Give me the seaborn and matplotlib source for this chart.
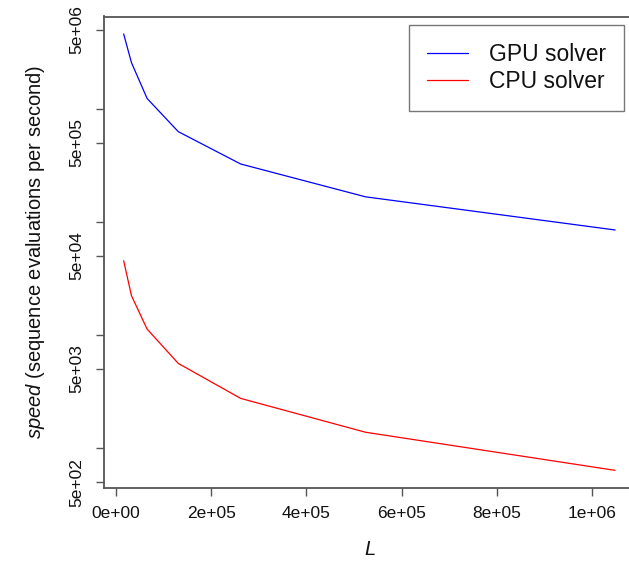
import numpy as np
import pandas as pd
import matplotlib
matplotlib.use("Agg")
import matplotlib.pyplot as plt
import seaborn as sns

# ---- data ----
L_values = [16384, 32768, 65536, 131072, 262144, 524288, 1048576]
gpu_speed = [4.61e6, 2.57e6, 1.24e6, 6.3e5, 3.26e5, 1.67e5, 8.5e4]
cpu_speed = [4.54e4, 2.23e4, 1.13e4, 5.61e3, 2.75e3, 1.38e3, 635]
series_names = ["GPU solver", "CPU solver"]
series_colors = ["blue", "red"]

x_ticks = [0, 2e5, 4e5, 6e5, 8e5, 1e6]
x_tick_labels = ["0e+00", "2e+05", "4e+05", "6e+05", "8e+05", "1e+06"]
y_ticks = [5e2, 1e3, 5e3, 1e4, 5e4, 1e5, 5e5, 1e6, 5e6]
y_tick_labels = ["5e+02", "", "5e+03", "", "5e+04", "", "5e+05", "", "5e+06"]

df = pd.DataFrame({
    "L": L_values * 2,
    "speed": gpu_speed + cpu_speed,
    "solver": [series_names[0]] * len(L_values) + [series_names[1]] * len(L_values),
})

sns.set_style("white")
plt.rcParams["font.family"] = ["Liberation Sans", "DejaVu Sans"]
plt.rcParams["mathtext.fontset"] = "custom"
plt.rcParams["mathtext.it"] = "Liberation Sans:italic"
plt.rcParams["mathtext.rm"] = "Liberation Sans"

W, H = 629, 561
fig = plt.figure(figsize=(W / 100, H / 100), dpi=100)
left, right, top, bottom = 104, 634.8, 16.5, 487.8
ax = fig.add_axes([left / W, 1 - bottom / H, (right - left) / W, (bottom - top) / H])

sns.lineplot(data=df, x="L", y="speed", hue="solver",
             palette=dict(zip(series_names, series_colors)),
             hue_order=series_names, linewidth=0.9, ax=ax, legend=True)

ax.set_yscale("log")
# R style 4% padding
xmin, xmax = min(L_values), max(L_values)
xr = xmax - xmin
ax.set_xlim(xmin - 0.04 * xr, xmax + 0.04 * xr)
lo = np.log10(min(cpu_speed)); hi = np.log10(max(gpu_speed))
yr = hi - lo
ax.set_ylim(10 ** (lo - 0.04 * yr), 10 ** (hi + 0.04 * yr))

ax.set_xticks(x_ticks)
ax.set_xticklabels(x_tick_labels)
ax.set_yticks(y_ticks)
ax.set_yticklabels(y_tick_labels, rotation=90, va="center")
ax.yaxis.set_minor_locator(matplotlib.ticker.NullLocator())

spine_color = "#555555"
for s in ax.spines.values():
    s.set_color(spine_color)
    s.set_linewidth(1.3)
ax.tick_params(axis="both", which="major", direction="out", length=6,
               width=1.0, color=spine_color, labelsize=12.5, labelcolor="#111111",
               bottom=True, left=True, top=False, right=False)
ax.tick_params(axis="x", pad=7)
ax.tick_params(axis="y", pad=8)

ax.set_xlabel("$\\it{L}$", fontsize=14.5, labelpad=14, color="#111111")
ax.set_ylabel("$\\it{speed}$ (sequence evaluations per second)", fontsize=14.5,
              labelpad=16, color="#111111")

leg = ax.legend(loc="upper right", bbox_to_anchor=(624 / W, 1 - 25 / H),
                bbox_transform=fig.transFigure, fontsize=16.5, frameon=True,
                fancybox=False, handlelength=1.8, handletextpad=0.9,
                labelspacing=0.2, borderpad=0.78, borderaxespad=0)
leg.get_frame().set_edgecolor("#555555")
leg.get_frame().set_linewidth(1.0)
for t in leg.get_texts():
    t.set_color("#111111")

fig.savefig("out.png", dpi=100)
